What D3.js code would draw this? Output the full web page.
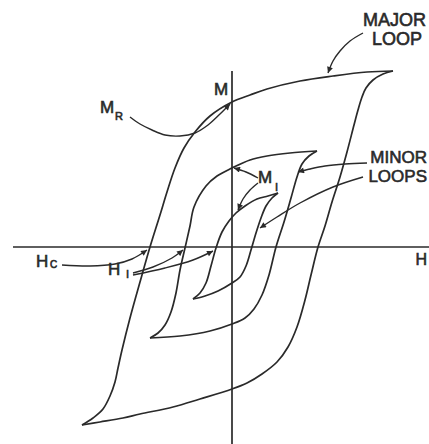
<!DOCTYPE html>
<html><head><meta charset="utf-8">
<script src="https://cdn.jsdelivr.net/npm/d3@7"></script>
<style>
html,body{margin:0;padding:0;background:#fff;}
svg{display:block;}
text{font-family:"Liberation Sans",Arial,Helvetica,sans-serif;fill:#2a2a2a;stroke:#2a2a2a;stroke-width:0.6;}
</style></head>
<body>
<script>
// ---- data (H, M) in arbitrary units ----
const majorAscending = [[-15.0,-17.8],[-13.9,-17.1],[-12.9,-16.2],[-12.2,-14.9],[-11.7,-13.5],[-11.4,-12.1],[-11.0,-10.3],[-10.2,-7.1],[-9.2,-3.5],[-8.2,0],[-7.2,3.2],[-6.5,5.5],[-5.7,7.9],[-4.8,9.9],[-3.7,11.5],[-2.2,13.1],[0,14.5],[1.8,15.2],[3.5,15.8],[6.8,16.6],[10.1,17.1],[13.5,17.5],[16.1,17.6]];
const majorDescending = [[16.1,17.6],[15.1,17.3],[14.1,16.7],[13.4,15.9],[13.0,15.0],[12.6,13.7],[12.2,12.2],[11.5,9.5],[10.8,7.0],[10.0,4.5],[9.3,2.1],[8.6,0],[7.9,-2.8],[7.3,-5.3],[6.5,-8.0],[5.6,-10.0],[4.5,-11.5],[3.0,-12.7],[1.5,-13.6],[0,-14.2],[-3.2,-15.2],[-5.9,-16.0],[-9.2,-16.7],[-10.9,-17.1],[-13.2,-17.5],[-15.0,-17.8]];
const outerMinorAscending = [[-8.2,-9.1],[-7.4,-8.6],[-6.7,-7.8],[-6.1,-6.5],[-5.6,-4.6],[-5.2,-2.3],[-4.7,-0.1],[-4.2,2.1],[-3.8,4.0],[-2.6,6.1],[-1.5,7.1],[0,7.9],[1.8,8.7],[3.5,9.1],[5.8,9.4],[8.5,9.6]];
const outerMinorDescending = [[8.5,9.6],[7.7,9.1],[7.0,8.3],[6.5,7.0],[5.9,4.9],[5.2,2.5],[4.4,0],[3.7,-2.8],[3.0,-4.8],[2.2,-6.2],[1.3,-7.1],[0,-7.7],[-2.2,-8.4],[-5.2,-8.9],[-8.2,-9.1]];
const innerMinorAscending = [[-3.9,-5.2],[-3.2,-4.6],[-2.6,-3.6],[-2.1,-1.9],[-1.6,-0.1],[-1.0,1.5],[-0.3,2.6],[0.4,3.4],[1.3,4.1],[2.5,4.8],[3.6,5.1],[4.6,5.4]];
const innerMinorDescending = [[4.6,5.4],[4.0,4.9],[3.4,4.1],[2.9,2.9],[2.4,1.4],[1.9,-0.3],[1.4,-1.9],[0.8,-3.0],[0,-3.6],[-1.4,-4.4],[-2.7,-4.9],[-3.9,-5.2]];
const hAxisRange = [-21.9, 19.7];
const mAxisRange = [-19.7, 17.6];

// leader (annotation) curves, in the same units
const leaderMajor = [[13.1,21.4],[11.8,20.6],[10.8,19.6],[10.1,18.6],[9.6,17.4]];
const leaderMR = [[-10.2,13.0],[-9.2,12.3],[-8.0,11.7],[-6.7,11.2],[-5.2,11.1],[-3.7,11.4],[-2.4,12.2],[-1.2,13.3],[-0.2,14.3]];
const leaderMinor = [[13.5,8.4],[11.3,8.3],[9.3,8.1],[7.8,7.8],[6.6,7.5]];
const leaderLoops = [[13.1,7.0],[10.1,6.0],[6.8,4.4],[4.5,3.0],[2.8,1.9]];
const leaderM1a = [[2.6,6.9],[1.4,7.5],[0.2,7.9]];
const leaderM1b = [[2.6,6.4],[1.8,5.7],[1.1,4.8],[0.6,3.7]];
const leaderHc = [[-17.0,-1.8],[-14.2,-1.9],[-11.7,-1.7],[-10.0,-1.2],[-8.5,-0.3]];
const leaderH1a = [[-9.9,-2.6],[-7.9,-2.0],[-6.0,-1.1],[-4.9,-0.3]];
const leaderH1b = [[-9.9,-2.8],[-6.7,-2.1],[-3.9,-1.3],[-1.9,-0.4]];

const W = 429, H = 444;
const x = d3.scaleLinear().domain(hAxisRange).range([13, 429]);
const y = d3.scaleLinear().domain(mAxisRange).range([444, 71]);

const svg = d3.select("body").append("svg").attr("width", W).attr("height", H);
const defs = svg.append("defs");
defs.append("marker").attr("id","arr").attr("viewBox","0 0 10 10").attr("refX",10).attr("refY",5)
  .attr("markerWidth",7).attr("markerHeight",6).attr("markerUnits","userSpaceOnUse").attr("orient","auto")
  .append("path").attr("d","M0,0 L10,5 L0,10 Z").attr("fill","#2a2a2a");

const col = "#2a2a2a";
const line = d3.line().x(d => x(d[0])).y(d => y(d[1])).curve(d3.curveCatmullRom.alpha(0.5));

// axes
svg.append("line").attr("x1", x(hAxisRange[0])).attr("x2", x(hAxisRange[1])).attr("y1", y(0)).attr("y2", y(0))
  .attr("stroke", col).attr("stroke-width", 1.7);
svg.append("line").attr("x1", x(0)).attr("x2", x(0)).attr("y1", y(mAxisRange[1])).attr("y2", y(mAxisRange[0]))
  .attr("stroke", col).attr("stroke-width", 1.7);

// loops
[majorAscending, majorDescending, outerMinorAscending, outerMinorDescending, innerMinorAscending, innerMinorDescending]
  .forEach(b => svg.append("path").attr("d", line(b)).attr("fill","none").attr("stroke",col).attr("stroke-width",1.7));

// leaders
[leaderMajor, leaderMR, leaderMinor, leaderLoops, leaderM1a, leaderM1b, leaderHc, leaderH1a, leaderH1b]
  .forEach(b => svg.append("path").attr("d", line(b)).attr("fill","none").attr("stroke",col).attr("stroke-width",1.4)
    .attr("marker-end","url(#arr)"));

// labels
function lab(tx, ty, s, size, sub, subSize, subDx, subDy, anchor) {
  svg.append("text").attr("x", tx).attr("y", ty).attr("font-size", size)
    .attr("text-anchor", anchor || "start").text(s);
  if (sub) svg.append("text").attr("x", tx + subDx).attr("y", ty + subDy).attr("font-size", subSize).text(sub);
}
lab(363, 26, "MAJOR", 18);
lab(372, 45, "LOOP", 18);
lab(427, 163, "MINOR", 17, null, 0, 0, 0, "end");
lab(427, 182, "LOOPS", 17, null, 0, 0, 0, "end");
lab(214, 95, "M", 17);
lab(100, 113, "M", 17, "R", 11, 15, 7);
lab(36, 267, "H", 17, "C", 10, 14, 1);
lab(108, 275, "H", 17, "I", 11, 18, 3);
lab(258, 183, "M", 17, "I", 11, 17, 8);
lab(427, 265, "H", 16, null, 0, 0, 0, "end");
</script>
</body></html>
